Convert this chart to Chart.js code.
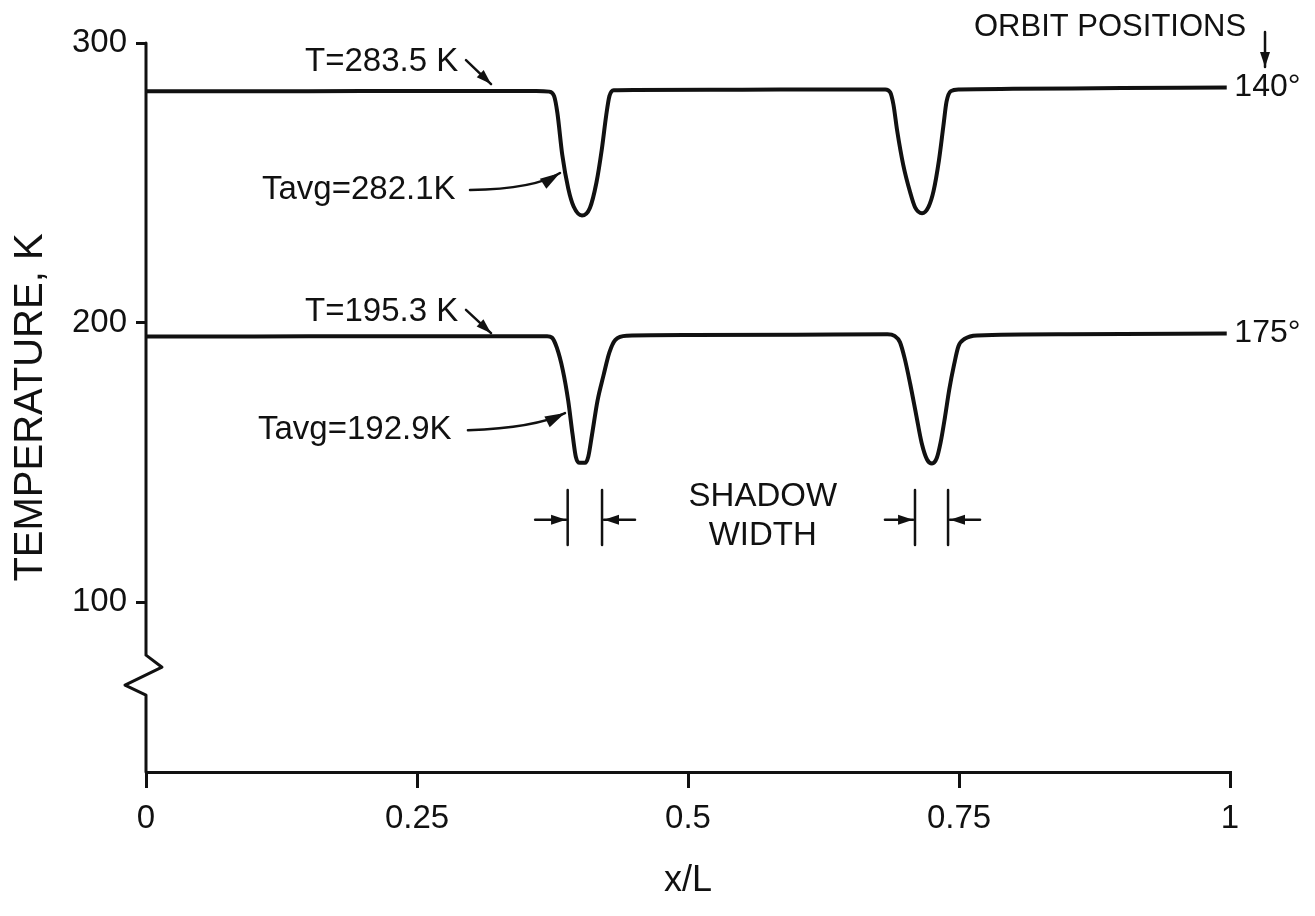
<!DOCTYPE html>
<html>
<head>
<meta charset="utf-8">
<script src="https://cdn.jsdelivr.net/npm/chart.js@4.4.1/dist/chart.umd.min.js"></script>
<style>
  html, body { margin: 0; padding: 0; background: #fff; }
  #wrap { width: 1315px; height: 916px; }
</style>
</head>
<body>
<div id="wrap"><canvas id="chart" width="1315" height="916"></canvas></div>
<script>
// Temperature along the panel (x/L) for two orbit positions

// orbit position 140 deg
const xAt140 = [0, 0.1, 0.2, 0.3, 0.36, 0.372, 0.3765, 0.3795, 0.384, 0.3895, 0.3945, 0.4022,
  0.4095, 0.4155, 0.4205, 0.4245, 0.4275, 0.4315, 0.45, 0.55, 0.65, 0.682, 0.6865, 0.6895, 0.693,
  0.6985, 0.705, 0.7095, 0.7159, 0.722, 0.7265, 0.7315, 0.7355, 0.7385, 0.7425, 0.75, 0.8, 0.9, 0.997];
const tempAt140 = [282.7, 282.7, 282.8, 282.8, 282.8, 282.6, 281.0, 275.0, 260.0, 248.0, 241.5, 238.3,
  241.0, 250.0, 262.0, 274.0, 281.0, 283.1, 283.2, 283.3, 283.4, 283.4, 282.4, 278.0, 268.5,
  256.5, 246.5, 241.2, 239.1, 241.5, 247.0, 258.0, 270.0, 279.0, 282.8, 283.4, 283.6, 283.9, 284.1];

// orbit position 175 deg
const xAt175 = [0, 0.1, 0.2, 0.3, 0.36, 0.37, 0.3745, 0.379, 0.3845, 0.3895, 0.3935, 0.3965, 0.4, 0.405,
  0.408, 0.4115, 0.4165, 0.422, 0.4275, 0.433, 0.4437, 0.5, 0.6, 0.684, 0.6905, 0.6955, 0.7, 0.705,
  0.7105, 0.7155, 0.7205, 0.7251, 0.7295, 0.733, 0.737, 0.741, 0.7455, 0.7495, 0.7555, 0.7666, 0.85, 0.997];
const tempAt175 = [195.0, 195.0, 195.1, 195.1, 195.1, 195.1, 194.6, 191.0, 183.0, 172.0, 160.0, 152.0, 149.8, 149.8,
  152.0, 160.0, 172.0, 181.0, 189.3, 193.8, 195.3, 195.5, 195.6, 195.8, 195.2, 193.0, 187.0, 178.0,
  167.0, 157.0, 151.0, 149.6, 151.5, 157.0, 166.0, 176.0, 185.0, 191.5, 194.2, 195.4, 195.8, 196.1];

const seriesLabels = ['140°', '175°'];
const xTicks = [0, 0.25, 0.5, 0.75, 1];
const xTickLabels = ['0', '0.25', '0.5', '0.75', '1'];
const yTicks = [100, 200, 300];
const yTickLabels = ['100', '200', '300'];

const FONT = '"Liberation Sans", Arial, sans-serif';
const INK = '#111';

function toPoints(xs, ys) {
  return xs.map((x, i) => ({ x: x, y: ys[i] }));
}

// annotations, placed in data units
const notes = [
  { text: 'T=283.5 K', x: 0.1467, y: 293.2, align: 'left', size: 33 },
  { text: 'Tavg=282.1K', x: 0.107, y: 247.4, align: 'left', size: 33 },
  { text: 'T=195.3 K', x: 0.1467, y: 203.8, align: 'left', size: 33 },
  { text: 'Tavg=192.9K', x: 0.1033, y: 161.5, align: 'left', size: 33 },
  { text: 'SHADOW', x: 0.569, y: 137.6, align: 'center', size: 33 },
  { text: 'WIDTH', x: 0.569, y: 123.6, align: 'center', size: 33 },
  { text: seriesLabels[0], x: 1.004, y: 284.3, align: 'left', size: 32 },
  { text: seriesLabels[1], x: 1.004, y: 196.2, align: 'left', size: 32 },
  { text: 'ORBIT POSITIONS', x: 0.7638, y: 305.7, align: 'left', size: 31 }
];
// arrows: list of points, last one is the tip
const arrows = [
  [[0.2952, 293.9], [0.3183, 285.3]],
  [[0.2952, 204.5], [0.3183, 196.2]],
  [[0.2989, 247.4], [0.3589, 247.8], [0.3819, 253.5]],
  [[0.297, 161.5], [0.3589, 162.3], [0.3865, 167.6]],
  [[0.359, 129.4], [0.3875, 129.4]],
  [[0.4511, 129.4], [0.4225, 129.4]],
  [[0.6817, 129.4], [0.7076, 129.4]],
  [[0.7694, 129.4], [0.7417, 129.4]],
  [[1.0323, 303.9], [1.0323, 291.4]]
];
const shadowBars = [0.389, 0.4207, 0.7094, 0.7399];
const shadowBarSpan = [120.4, 140.1];
const axisBreak = [81.0, 76.7, 70.3, 66.7];

function drawArrow(ctx, pts) {
  ctx.beginPath();
  ctx.moveTo(pts[0][0], pts[0][1]);
  if (pts.length === 3) {
    ctx.quadraticCurveTo(pts[1][0], pts[1][1], pts[2][0], pts[2][1]);
  } else {
    ctx.lineTo(pts[1][0], pts[1][1]);
  }
  ctx.stroke();
  const tip = pts[pts.length - 1];
  const prev = pts[pts.length - 2];
  const a = Math.atan2(tip[1] - prev[1], tip[0] - prev[0]);
  const len = pts.length === 3 ? 20 : 15;
  const w = pts.length === 3 ? 6 : 5;
  ctx.beginPath();
  ctx.moveTo(tip[0], tip[1]);
  ctx.lineTo(tip[0] - len * Math.cos(a) + w * Math.sin(a), tip[1] - len * Math.sin(a) - w * Math.cos(a));
  ctx.lineTo(tip[0] - len * Math.cos(a) - w * Math.sin(a), tip[1] - len * Math.sin(a) + w * Math.cos(a));
  ctx.closePath();
  ctx.fill();
}

const figureMarks = {
  id: 'figureMarks',
  afterDraw(chart) {
    const ctx = chart.ctx;
    const xs = chart.scales.x, ys = chart.scales.y;
    const px = v => xs.getPixelForValue(v);
    const py = v => ys.getPixelForValue(v);
    ctx.save();
    ctx.strokeStyle = INK;
    ctx.fillStyle = INK;
    ctx.lineCap = 'round';
    ctx.lineJoin = 'round';

    // y axis with the break
    const ax = px(0);
    ctx.lineWidth = 3;
    ctx.beginPath();
    ctx.moveTo(ax, py(300));
    ctx.lineTo(ax, py(axisBreak[0]));
    ctx.lineTo(ax + 16, py(axisBreak[1]));
    ctx.lineTo(ax - 21, py(axisBreak[2]));
    ctx.lineTo(ax, py(axisBreak[3]));
    ctx.lineTo(ax, chart.chartArea.bottom);
    ctx.stroke();

    // shadow width bars
    ctx.lineWidth = 2.5;
    shadowBars.forEach(v => {
      ctx.beginPath();
      ctx.moveTo(px(v), py(shadowBarSpan[0]));
      ctx.lineTo(px(v), py(shadowBarSpan[1]));
      ctx.stroke();
    });

    // arrows
    ctx.lineWidth = 2.5;
    arrows.forEach(a => drawArrow(ctx, a.map(p => [px(p[0]), py(p[1])])));

    // text
    ctx.textBaseline = 'middle';
    notes.forEach(n => {
      ctx.font = n.size + 'px ' + FONT;
      ctx.textAlign = n.align;
      ctx.fillText(n.text, px(n.x), py(n.y));
    });
    ctx.restore();
  }
};

new Chart(document.getElementById('chart'), {
  type: 'line',
  data: {
    datasets: [
      { label: seriesLabels[0], data: toPoints(xAt140, tempAt140) },
      { label: seriesLabels[1], data: toPoints(xAt175, tempAt175) }
    ]
  },
  options: {
    responsive: false,
    animation: false,
    layout: { padding: { top: 43, right: 85, left: 0, bottom: 0 } },
    elements: {
      line: { borderColor: INK, borderWidth: 4, cubicInterpolationMode: 'monotone', fill: false },
      point: { radius: 0 }
    },
    plugins: {
      legend: { display: false },
      tooltip: { enabled: false }
    },
    scales: {
      x: {
        type: 'linear',
        min: 0,
        max: 1,
        afterBuildTicks: s => { s.ticks = xTicks.map(v => ({ value: v })); },
        afterFit: s => { s.height = 144; },
        ticks: {
          color: INK,
          font: { family: FONT, size: 33 },
          padding: 11,
          maxRotation: 0,
          callback: (v, i) => xTickLabels[i]
        },
        grid: { drawOnChartArea: false, drawTicks: true, tickLength: 16, color: INK, lineWidth: 3 },
        border: { display: true, color: INK, width: 3 },
        title: {
          display: true,
          text: 'x/L',
          color: INK,
          font: { family: FONT, size: 36 },
          padding: { top: 0, bottom: 13 }
        }
      },
      y: {
        type: 'linear',
        min: 39.2,
        max: 300,
        afterBuildTicks: s => { s.ticks = yTicks.map(v => ({ value: v })); },
        afterFit: s => { s.width = 146; },
        ticks: {
          color: INK,
          font: { family: FONT, size: 33 },
          padding: 9,
          callback: (v, i) => yTickLabels[i]
        },
        grid: { drawOnChartArea: false, drawTicks: true, tickLength: 10, color: INK, lineWidth: 3 },
        border: { display: false },
        title: {
          display: true,
          text: 'TEMPERATURE, K',
          color: INK,
          font: { family: FONT, size: 40 },
          padding: { top: 7, bottom: 0 }
        }
      }
    }
  },
  plugins: [figureMarks]
});
</script>
</body>
</html>
